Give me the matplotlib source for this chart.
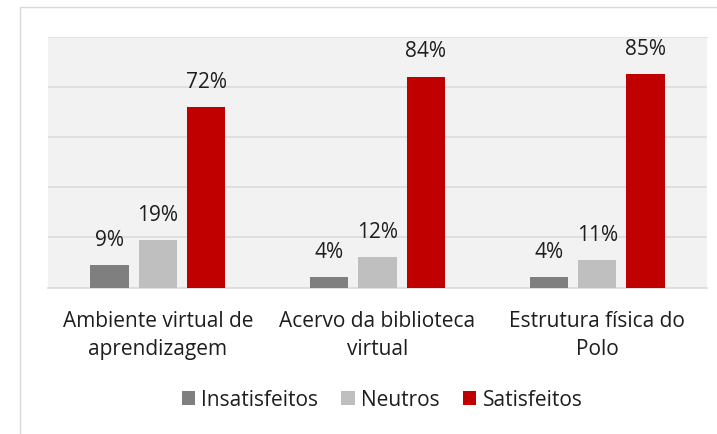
import numpy as np
import matplotlib
matplotlib.use('Agg')
import matplotlib.pyplot as plt
from matplotlib.patches import Rectangle

plt.rcParams['font.family'] = ['Open Sans', 'DejaVu Sans']

categories = ['Ambiente virtual de\naprendizagem', 'Acervo da biblioteca\nvirtual',
              'Estrutura física do\nPolo']
series = ['Insatisfeitos', 'Neutros', 'Satisfeitos']
insatisfeitos = [0.09, 0.04, 0.04]
neutros = [0.19, 0.12, 0.11]
satisfeitos = [0.72, 0.84, 0.85]
colors = ['#7F7F7F', '#BFBFBF', '#C00000']

W, H = 717, 435
fig = plt.figure(figsize=(W / 100, H / 100), dpi=100)
fig.patch.set_facecolor('white')

# outer chart frame
fig.patches.append(Rectangle((20 / W, -0.1), 1.2, 1 - 8 / H + 0.1,
                             transform=fig.transFigure, fill=False,
                             edgecolor='#D9D9D9', lw=1))

ax = fig.add_axes([48 / W, 146.5 / H, 659 / W, 251 / H])
ax.set_facecolor('#F2F2F2')

x = np.arange(len(categories))
width = 0.175
step = 0.22
text_color = '#1E1E1E'
for i, (name, vals) in enumerate(zip(series, [insatisfeitos, neutros, satisfeitos])):
    pos = x + (i - 1) * step
    bars = ax.bar(pos, vals, width, color=colors[i], label=name, zorder=3)
    for b, v in zip(bars, vals):
        ax.annotate(f'{v * 100:.0f}%', (b.get_x() + b.get_width() / 2, v),
                    xytext=(0, 18.5), textcoords='offset points',
                    ha='center', va='center', fontsize=15, color=text_color)

ax.set_xlim(-0.5, 2.5)
ax.set_ylim(0, 1)
ax.set_yticks([0.2, 0.4, 0.6, 0.8])
ax.yaxis.grid(True, color='#DCDCDC', lw=1.2, zorder=0)
ax.tick_params(axis='y', left=False, labelleft=False)
ax.tick_params(axis='x', bottom=False, pad=13)
ax.set_xticks(x)
ax.set_xticklabels(categories, fontsize=15, color=text_color, linespacing=1.4)
for s in ['left', 'right']:
    ax.spines[s].set_visible(False)
ax.spines['top'].set_color('#E3E3E3')
ax.spines['bottom'].set_color('#D9D9D9')
ax.spines['bottom'].set_linewidth(1.2)

leg = fig.legend(loc='center', bbox_to_anchor=(382 / W, 1 - 401 / H), ncol=3,
                 frameon=False, fontsize=15, handlelength=0.65, handleheight=0.65,
                 handletextpad=0.3, columnspacing=1.1)
for t in leg.get_texts():
    t.set_color(text_color)

fig.savefig('out.png', dpi=100)
